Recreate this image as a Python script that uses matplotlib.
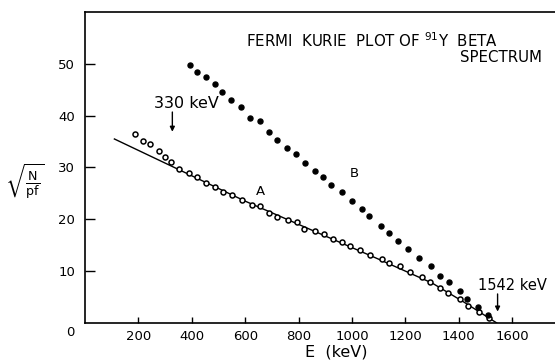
import matplotlib
matplotlib.use("Agg")
import matplotlib.pyplot as plt
import numpy as np

# curve A: corrected Kurie plot points
a_energy = [188, 217, 244, 276, 300, 322, 353, 389, 420, 454, 485, 517, 552, 589,
            624, 654, 689, 719, 760, 794, 820, 860, 894, 927, 964, 994, 1031, 1066,
            1112, 1139, 1179, 1216, 1262, 1291, 1331, 1359, 1404, 1434, 1476, 1513]
a_value = [36.4, 35.1, 34.6, 33.1, 32.1, 31.0, 29.7, 29.0, 28.1, 27.1, 26.3, 25.3, 24.7, 23.7,
           22.8, 22.5, 21.3, 20.4, 19.9, 19.4, 18.2, 17.7, 17.2, 16.3, 15.6, 14.9, 14.0, 13.1,
           12.3, 11.6, 11.0, 9.9, 8.8, 8.0, 6.7, 5.7, 4.6, 3.3, 2.2, 1.0]

# curve B: uncorrected points
b_energy = [392, 420, 452, 485, 514, 548, 583, 617, 654, 689, 719, 756, 789, 823,
            860, 892, 923, 962, 998, 1036, 1064, 1107, 1139, 1172, 1211, 1252, 1294,
            1331, 1364, 1404, 1432, 1472, 1510]
b_value = [49.7, 48.5, 47.4, 46.1, 44.5, 43.1, 41.6, 39.5, 38.9, 36.8, 35.3, 33.8, 32.6, 30.9,
           29.3, 28.1, 26.6, 25.3, 23.6, 21.9, 20.7, 18.7, 17.3, 15.9, 14.2, 12.6, 11.0,
           9.1, 8.0, 6.2, 4.6, 3.0, 1.5]

# hand-drawn fit line through A
fit_energy = [110, 600, 1100, 1300, 1420, 1542]
fit_value = [35.5, 23.5, 12.3, 7.7, 4.0, 0.0]

x_ticks = [200, 400, 600, 800, 1000, 1200, 1400, 1600]
y_ticks = [10, 20, 30, 40, 50]

plt.rcParams["font.family"] = "DejaVu Sans"

fig = plt.figure(figsize=(5.55, 3.6), dpi=100)
ax = fig.add_axes([0.1532, 0.1028, 0.8468, 0.8639])

ax.plot(fit_energy, fit_value, color="black", linewidth=1.0)
ax.plot(a_energy, a_value, "o", markersize=3.6, markerfacecolor="white",
        markeredgecolor="black", markeredgewidth=1.1, linestyle="none")
ax.plot(b_energy, b_value, "o", markersize=3.6, color="black", linestyle="none")

ax.set_xlim(0, 1760)
ax.set_ylim(0, 60)
ax.set_xticks(x_ticks)
ax.set_yticks(y_ticks)
ax.tick_params(axis="both", direction="in", labelsize=9.5, width=1.0)
ax.tick_params(axis="y", length=7, pad=7)
ax.tick_params(axis="x", length=4.5, pad=5)
ax.spines["right"].set_visible(False)
for side in ["left", "bottom", "top"]:
    ax.spines[side].set_linewidth(1.2)

ax.text(-0.032, -0.032, "0", transform=ax.transAxes, ha="center", va="center", fontsize=9.5)

# x label sits a bit right of the axes centre, as in the original
ax.text(0.534, -0.092, "E  (keV)", transform=ax.transAxes, ha="center", va="center",
        fontsize=11.5)

fig.text(0.045, 0.495, r"$\sqrt{\frac{\mathrm{N}}{\mathrm{pf}}}$", fontsize=13,
         ha="center", va="center")

ax.text(602, 54.5, r"FERMI  KURIE  PLOT OF $^{91}$Y  BETA", fontsize=10.8, va="center")
ax.text(1404, 51.2, "SPECTRUM", fontsize=10.8, va="center")

ax.text(658, 25.3, "A", fontsize=9.5, ha="center", va="center")
ax.text(1010, 28.9, "B", fontsize=9.5, ha="center", va="center")

ax.annotate("", xy=(327, 36.9), xytext=(327, 40.7),
            arrowprops=dict(arrowstyle="-|>", color="black", lw=1.0,
                            mutation_scale=7, shrinkA=0, shrinkB=0))
ax.text(381, 42.4, "330 keV", fontsize=11.5, ha="center", va="center")

ax.annotate("", xy=(1545, 2.2), xytext=(1545, 5.6),
            arrowprops=dict(arrowstyle="-|>", color="black", lw=1.0,
                            mutation_scale=7, shrinkA=0, shrinkB=0))
ax.text(1602, 7.3, "1542 keV", fontsize=10.5, ha="center", va="center")

fig.savefig("out.png", dpi=100)
